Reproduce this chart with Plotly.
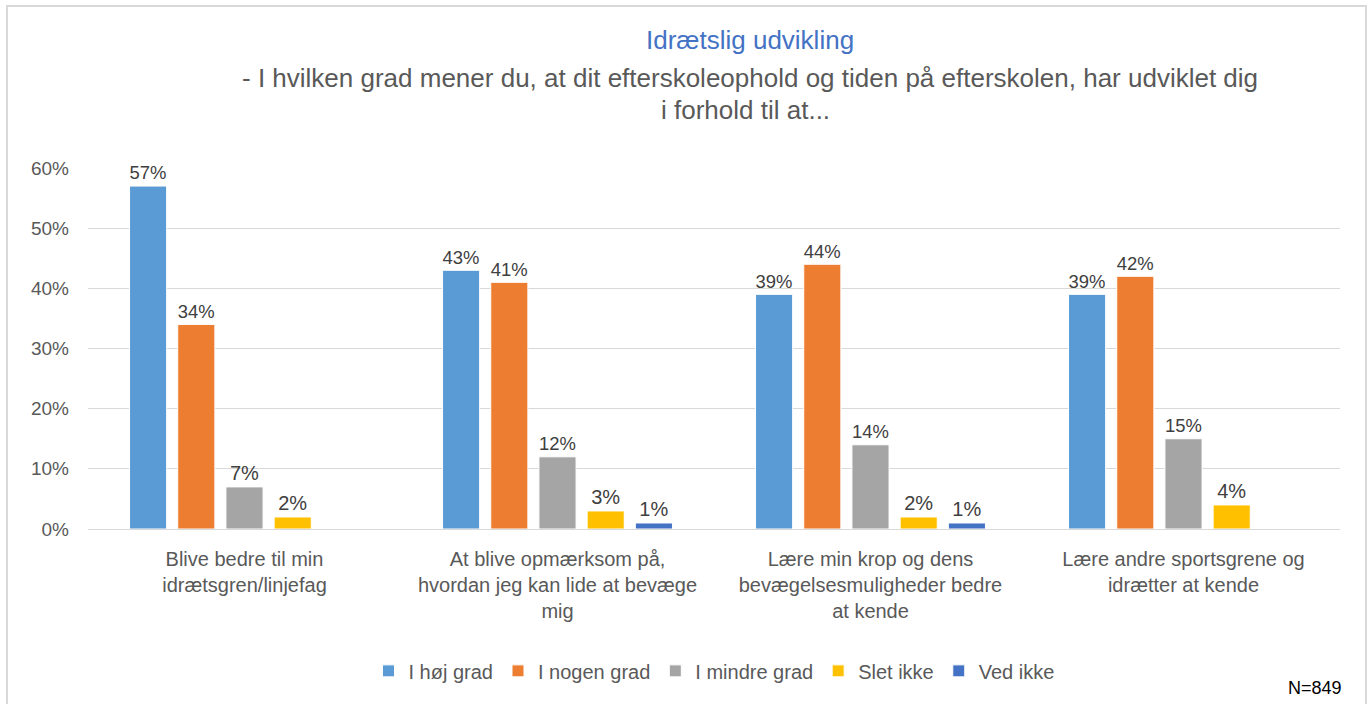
import plotly.graph_objects as go

categories = [
    "Blive bedre til min<br>idrætsgren/linjefag",
    "At blive opmærksom på,<br>hvordan jeg kan lide at bevæge<br>mig",
    "Lære min krop og dens<br>bevægelsesmuligheder bedre<br>at kende",
    "Lære andre sportsgrene og<br>idrætter at kende",
]
series_names = ["I høj grad", "I nogen grad", "I mindre grad", "Slet ikke", "Ved ikke"]
hoej_grad = [57, 43, 39, 39]
nogen_grad = [34, 41, 44, 42]
mindre_grad = [7, 12, 14, 15]
slet_ikke = [2, 3, 2, 4]
ved_ikke = [None, 1, 1, None]
colors = ["#5B9BD5", "#ED7D31", "#A5A5A5", "#FFC000", "#4472C4"]
y_ticks = [0, 10, 20, 30, 40, 50, 60]

FONT = "Liberation Sans"
series = [hoej_grad, nogen_grad, mindre_grad, slet_ikke, ved_ikke]

fig = go.Figure()
for name, vals, col in zip(series_names, series, colors):
    fig.add_trace(go.Bar(
        x=categories, y=vals, name=name,
        marker=dict(color=col, line=dict(color="white", width=1)),
        text=[("" if v is None else f"{v}%") for v in vals],
        textposition="outside",
        textfont=dict(size=20, color="#404040", family=FONT),
        cliponaxis=False,
    ))

fig.update_layout(
    width=1371, height=704,
    barmode="group", bargap=0.23, bargroupgap=0.23,
    paper_bgcolor="white", plot_bgcolor="white",
    margin=dict(l=88, r=31, t=168, b=175),
    font=dict(family=FONT, color="#595959"),
    showlegend=True,
    legend=dict(orientation="h", x=0.5, xanchor="center", y=-0.393, yref="paper",
                yanchor="middle", font=dict(size=20, color="#595959", family=FONT),
                itemwidth=30, traceorder="normal"),
    yaxis=dict(range=[0, 60], tickvals=y_ticks, ticktext=[f"{v}%" for v in y_ticks],
               showgrid=True, gridcolor="#D9D9D9", gridwidth=1,
               zeroline=True, zerolinecolor="#D9D9D9", zerolinewidth=1,
               tickfont=dict(size=19, color="#595959", family=FONT),
               ticks="", showline=False, ticklabelstandoff=18, automargin=False),
    xaxis=dict(tickfont=dict(size=20, color="#595959", family=FONT),
               showline=False, ticks="", ticklabelstandoff=16, automargin=False),
)

fig.add_annotation(text="Idrætslig udvikling", xref="paper", yref="paper",
                   x=0.529, y=1.355, xanchor="center", yanchor="middle", showarrow=False,
                   font=dict(size=26, color="#4472C4", family=FONT))
fig.add_annotation(text="- I hvilken grad mener du, at dit efterskoleophold og tiden på efterskolen, har udviklet dig",
                   xref="paper", yref="paper", x=0.529, y=1.249, xanchor="center", yanchor="middle",
                   showarrow=False, font=dict(size=26, color="#595959", family=FONT))
fig.add_annotation(text="i forhold til at...", xref="paper", yref="paper",
                   x=0.525, y=1.161, xanchor="center", yanchor="middle", showarrow=False,
                   font=dict(size=26, color="#595959", family=FONT))
fig.add_annotation(text="N=849", xref="paper", yref="paper", x=0.98, y=-0.44,
                   xanchor="center", yanchor="middle", showarrow=False,
                   font=dict(size=18, color="#000000", family=FONT))
fig.add_shape(type="rect", xref="paper", yref="paper",
              x0=(7 - 88) / 1252, x1=(1366 - 88) / 1252, y0=(529 - 710) / 361, y1=(529 - 6) / 361,
              line=dict(color="#D9D9D9", width=2), fillcolor="rgba(0,0,0,0)")

fig.write_html("out.html", config={"displayModeBar": False},
               post_script="document.body.style.margin='0px';")
